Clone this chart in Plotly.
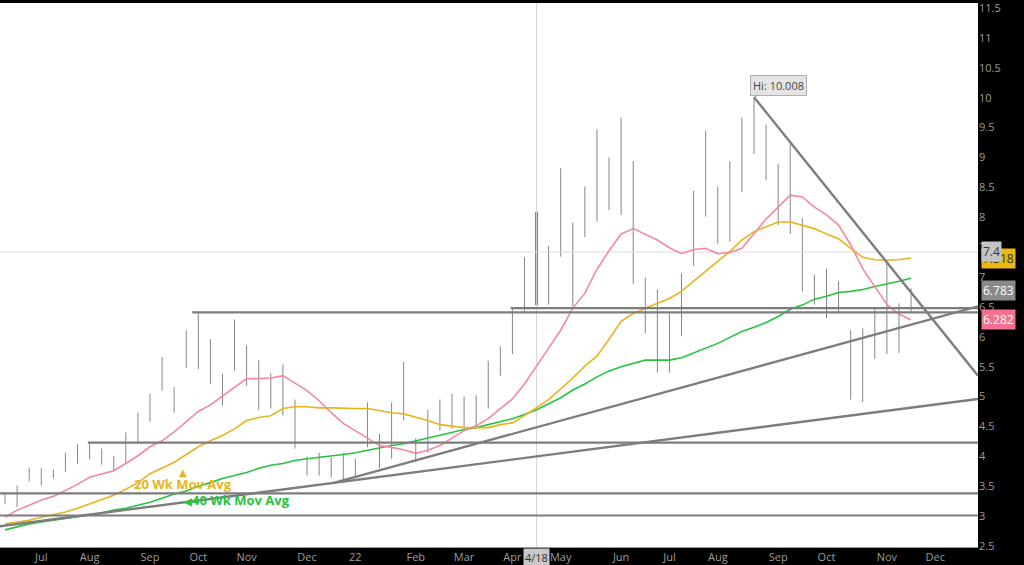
import pandas as pd
import plotly.graph_objects as go

# ---------------- data (weekly bars) ----------------
weeks = pd.date_range("2021-06-14", periods=76, freq="7D")

opens = [3.36, 3.20, 3.59, 3.78, 3.72, 3.75, 4.18, 3.98, 4.12, 3.98,
         3.90, 4.33, 4.73, 5.20, 5.15, 5.48, 5.90, 5.48, 5.30, 5.65,
         5.35, 5.46, 4.80, 5.10, 4.95, 3.95, 4.00, 3.88, 4.00, 3.68,
         4.20, 4.31, 3.98, 4.83, 4.20, 4.10, 4.50, 4.55, 5.00, 4.63,
         4.80, 5.48, 5.81, 6.45, 7.62, 6.56, 7.35, 7.88, 7.87, 7.94,
         8.82, 9.02, 8.79, 6.71, 6.19, 5.78, 6.56, 7.23, 8.49, 7.92,
         7.67, 8.80, 9.85, 9.16, 8.77, 7.92, 7.44, 6.81, 6.43, 6.75,
         6.08, 4.93, 6.31, 6.96, 6.08, 6.46]
highs = [3.38, 3.51, 3.81, 3.80, 3.78, 4.06, 4.20, 4.21, 4.13, 4.00,
         4.40, 4.73, 5.05, 5.66, 5.16, 6.11, 6.41, 5.96, 5.38, 6.29,
         5.86, 5.61, 5.39, 5.54, 4.95, 4.00, 4.06, 3.98, 4.06, 3.96,
         4.90, 4.38, 4.90, 5.58, 4.30, 4.78, 4.95, 5.05, 5.00, 5.02,
         5.60, 5.84, 6.48, 7.33, 8.09, 7.52, 8.82, 7.91, 8.52, 9.47,
         9.00, 9.67, 8.94, 6.99, 6.79, 6.39, 7.06, 8.44, 9.45, 8.51,
         8.94, 9.67, 10.008, 9.55, 8.89, 9.22, 7.99, 7.04, 7.14, 6.93,
         6.11, 6.14, 6.48, 7.23, 6.56, 6.81]
lows = [3.20, 3.15, 3.58, 3.51, 3.63, 3.74, 3.88, 3.95, 3.86, 3.76,
        3.88, 4.21, 4.58, 5.10, 4.73, 5.48, 5.46, 5.21, 4.85, 5.43,
        5.18, 4.78, 4.80, 4.68, 4.13, 3.68, 3.68, 3.65, 3.60, 3.65,
        4.15, 3.80, 3.96, 4.60, 3.90, 4.06, 4.43, 4.46, 4.48, 4.48,
        4.80, 5.35, 5.71, 6.43, 6.53, 6.54, 7.34, 6.51, 7.67, 7.93,
        8.12, 8.04, 6.89, 6.06, 5.40, 5.40, 6.01, 7.18, 8.01, 7.56,
        7.59, 8.42, 9.06, 8.62, 7.87, 7.72, 6.76, 6.54, 6.31, 6.39,
        4.95, 4.91, 5.63, 5.71, 5.73, 6.43]
closes = [3.25, 3.51, 3.74, 3.73, 3.70, 4.06, 3.93, 4.15, 4.05, 3.85,
          4.38, 4.71, 4.96, 5.10, 5.13, 5.63, 5.58, 5.46, 5.30, 5.40,
          5.55, 4.80, 5.08, 5.52, 4.15, 3.78, 3.70, 3.82, 3.73, 3.93,
          4.30, 4.01, 4.65, 4.60, 3.95, 4.43, 4.47, 5.00, 4.75, 4.85,
          5.57, 5.81, 6.31, 7.31, 6.56, 7.25, 8.04, 7.67, 8.10, 8.74,
          8.52, 8.82, 6.96, 6.23, 5.76, 6.04, 7.04, 8.31, 8.26, 8.07,
          8.79, 9.37, 9.34, 8.77, 8.02, 7.76, 6.81, 6.79, 6.77, 6.45,
          4.96, 5.68, 6.45, 5.89, 6.39, 6.783]

ma10 = [2.98, 3.10, 3.18, 3.27, 3.33, 3.43, 3.53, 3.65, 3.71, 3.76,
        3.88, 4.01, 4.16, 4.26, 4.41, 4.58, 4.75, 4.86, 5.01, 5.15,
        5.30, 5.30, 5.31, 5.35, 5.23, 5.10, 4.93, 4.73, 4.55, 4.43,
        4.30, 4.18, 4.15, 4.11, 4.05, 4.10, 4.18, 4.30, 4.43, 4.51,
        4.63, 4.80, 4.96, 5.21, 5.50, 5.81, 6.11, 6.48, 6.73, 7.13,
        7.44, 7.72, 7.81, 7.71, 7.62, 7.49, 7.39, 7.46, 7.48, 7.39,
        7.41, 7.48, 7.72, 7.97, 8.17, 8.37, 8.34, 8.17, 8.04, 7.87,
        7.54, 7.14, 6.84, 6.54, 6.38, 6.282]
ma20 = [2.87, 2.90, 2.93, 2.98, 3.02, 3.07, 3.13, 3.20, 3.28, 3.35,
        3.45, 3.56, 3.71, 3.81, 3.90, 4.03, 4.16, 4.26, 4.35, 4.46,
        4.60, 4.65, 4.68, 4.80, 4.83, 4.83, 4.81, 4.81, 4.80, 4.80,
        4.80, 4.76, 4.73, 4.71, 4.66, 4.60, 4.53, 4.50, 4.48, 4.48,
        4.48, 4.53, 4.56, 4.68, 4.81, 4.95, 5.13, 5.31, 5.51, 5.68,
        5.96, 6.26, 6.39, 6.48, 6.56, 6.64, 6.76, 6.93, 7.09, 7.26,
        7.43, 7.62, 7.76, 7.84, 7.92, 7.92, 7.86, 7.81, 7.72, 7.64,
        7.48, 7.33, 7.29, 7.28, 7.29, 7.318]
ma40 = [2.77, 2.82, 2.87, 2.90, 2.93, 2.95, 2.98, 3.02, 3.05, 3.10,
        3.13, 3.18, 3.23, 3.30, 3.37, 3.42, 3.50, 3.56, 3.63, 3.68,
        3.73, 3.80, 3.85, 3.88, 3.93, 3.96, 3.98, 4.01, 4.03, 4.06,
        4.10, 4.15, 4.18, 4.21, 4.26, 4.30, 4.35, 4.40, 4.45, 4.48,
        4.53, 4.58, 4.63, 4.70, 4.78, 4.88, 4.98, 5.11, 5.21, 5.33,
        5.43, 5.50, 5.56, 5.61, 5.61, 5.61, 5.65, 5.73, 5.81, 5.89,
        5.99, 6.09, 6.16, 6.24, 6.34, 6.46, 6.53, 6.63, 6.68, 6.74,
        6.76, 6.79, 6.84, 6.88, 6.93, 6.98]

hi_index = 62
sel_index = 44

tick_dates = ["2021-07-05", "2021-08-02", "2021-09-06", "2021-10-04", "2021-11-01",
              "2021-12-06", "2022-01-03", "2022-02-07", "2022-03-07", "2022-04-04",
              "2022-05-02", "2022-06-06", "2022-07-04", "2022-08-01", "2022-09-05",
              "2022-10-03", "2022-11-07", "2022-12-05"]
tick_names = ["Jul", "Aug", "Sep", "Oct", "Nov", "Dec", "22", "Feb", "Mar", "Apr",
              "May", "Jun", "Jul", "Aug", "Sep", "Oct", "Nov", "Dec"]
y_ticks = [2.5 + 0.5 * k for k in range(19)]
y_labels = [("%g" % v) for v in y_ticks]

x_start = "2021-06-11 02:00"
x_end = "2022-12-29 19:00"

# support / resistance levels: (start date, price)
levels = [("2021-09-30 12:00", 6.41), ("2022-04-03", 6.48), ("2021-08-01", 4.23),
          (x_start, 3.38), (x_start, 3.01)]
# trend lines: ((date, price), (date, price))
trends = [((str(weeks[hi_index].date()), 10.008), (x_end, 5.35)),
          (("2021-12-22", 3.56), (x_end, 6.51)),
          ((x_start, 2.83), (x_end, 4.96))]
cross_date = "2022-04-18"
cross_price = 7.42

GRAY = "#7d7d7d"
FONT = "Open Sans"

fig = go.Figure()

# crosshair
fig.add_trace(go.Scatter(x=[cross_date, cross_date], y=[2.0, 12.0], mode="lines",
                         line=dict(color="#d6d6d6", width=1), hoverinfo="skip", showlegend=False))
fig.add_trace(go.Scatter(x=[x_start, x_end], y=[cross_price, cross_price], mode="lines",
                         line=dict(color="#dcdcdc", width=1), hoverinfo="skip", showlegend=False))

bar_line = dict(line=dict(color="#858585", width=1))
fig.add_trace(go.Ohlc(x=weeks, open=opens, high=highs, low=lows, close=closes,
                      increasing=bar_line, decreasing=bar_line, tickwidth=0.32,
                      hoverinfo="skip", showlegend=False))
sel_line = dict(line=dict(color="#7a7a7a", width=3))
fig.add_trace(go.Ohlc(x=[weeks[sel_index]], open=[opens[sel_index]], high=[highs[sel_index]],
                      low=[lows[sel_index]], close=[closes[sel_index]],
                      increasing=sel_line, decreasing=sel_line, tickwidth=0.32,
                      hoverinfo="skip", showlegend=False))

for vals, col in [(ma40, "#27c23f"), (ma20, "#e8b41c"), (ma10, "#f4899e")]:
    fig.add_trace(go.Scatter(x=weeks, y=vals, mode="lines", line=dict(color=col, width=1.6),
                             hoverinfo="skip", showlegend=False))

for start, price in levels:
    fig.add_trace(go.Scatter(x=[start, x_end], y=[price, price], mode="lines",
                             line=dict(color=GRAY, width=2.2), hoverinfo="skip", showlegend=False))
for (d0, p0), (d1, p1) in trends:
    fig.add_trace(go.Scatter(x=[d0, d1], y=[p0, p1], mode="lines",
                             line=dict(color=GRAY, width=2.4), hoverinfo="skip", showlegend=False))

annotations = [
    dict(x=weeks[hi_index], y=highs[hi_index], xref="x", yref="y", text="Hi: 10.008",
         showarrow=True, arrowhead=0, arrowwidth=1, arrowcolor="#a0a0a0", ax=24, ay=-12,
         bgcolor="#e4e4e4", bordercolor="#b0b0b0", borderwidth=1, borderpad=2,
         font=dict(family=FONT, size=11, color="#444444")),
    dict(x="2021-09-25", y=3.73, xref="x", yref="y", text="▲", showarrow=False,
         font=dict(family="DejaVu Sans", size=10, color="#e8b41c")),
    dict(x="2021-09-25", y=3.53, xref="x", yref="y", text="<b>20 Wk Mov Avg</b>",
         showarrow=False, font=dict(family=FONT, size=13, color="#e8b41c")),
    dict(x="2021-09-24", y=3.27, xref="x", yref="y", xanchor="left",
         text="<b><span style='font-size:10px'>◀</span>40 Wk Mov Avg</b>", showarrow=False,
         font=dict(family=FONT, size=13, color="#27c23f")),
    # right-axis value badges
    dict(x=1, y=7.318, xref="paper", yref="y", xanchor="left", xshift=3, text="7.318",
         showarrow=False, bgcolor="#e9b814", borderpad=1,
         font=dict(family=FONT, size=12, color="#333333")),
    dict(x=1, y=cross_price, xref="paper", yref="y", xanchor="left", xshift=3, text="7.4",
         showarrow=False, bgcolor="#c4c4c4", borderpad=1,
         font=dict(family=FONT, size=12, color="#333333")),
    dict(x=1, y=closes[-1], xref="paper", yref="y", xanchor="left", xshift=3, text="6.783",
         showarrow=False, bgcolor="#8a8a8a", borderpad=1,
         font=dict(family=FONT, size=12, color="#ffffff")),
    dict(x=1, y=ma10[-1], xref="paper", yref="y", xanchor="left", xshift=3, text="6.282",
         showarrow=False, bgcolor="#f3708e", borderpad=1,
         font=dict(family=FONT, size=12, color="#ffffff")),
    dict(x=cross_date, y=0, xref="x", yref="paper", yanchor="top", yshift=-1, text="4/18",
         showarrow=False, bgcolor="#c8c8c8", borderpad=1,
         font=dict(family=FONT, size=11, color="#333333")),
]

fig.update_layout(
    width=1024, height=565, autosize=False,
    margin=dict(l=0, r=46, t=0, b=18, pad=0),
    paper_bgcolor="#000000", plot_bgcolor="#ffffff",
    showlegend=False, hovermode=False,
    annotations=annotations,
    xaxis=dict(type="date", range=[x_start, x_end], tickvals=tick_dates, ticktext=tick_names,
               showgrid=False, zeroline=False, ticks="", rangeslider=dict(visible=False),
               tickfont=dict(family=FONT, size=11, color="#9c9c9c"),
               showline=True, linecolor="#9a9a9a", linewidth=1),
    yaxis=dict(side="right", range=[2.483, 11.585], tickvals=y_ticks, ticktext=y_labels,
               showgrid=False, zeroline=False, ticks="", ticklabeloverflow="allow",
               tickfont=dict(family=FONT, size=11, color="#9c9c9c")),
)

fig.write_html("out.html", config={"displayModeBar": False},
               post_script="document.body.style.margin='0px';document.body.style.overflow='hidden';document.body.style.background='#000';")
